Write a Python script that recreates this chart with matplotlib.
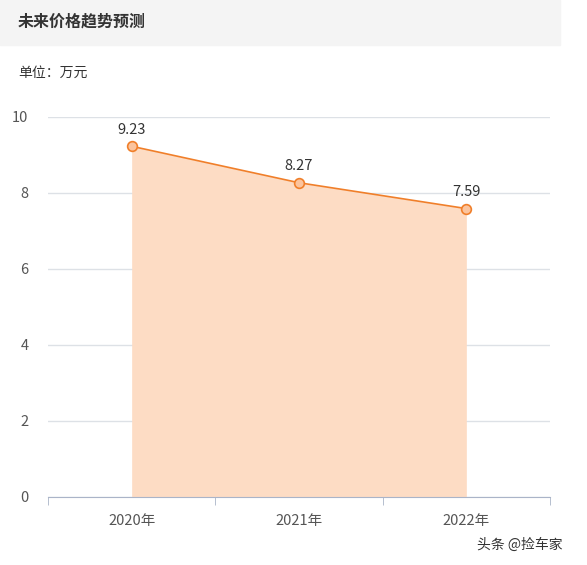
import matplotlib
matplotlib.use("Agg")
import matplotlib.pyplot as plt
from matplotlib.patches import Rectangle

plt.rcParams['font.family'] = ['Noto Sans CJK SC', 'DejaVu Sans']

categories = ["2020年", "2021年", "2022年"]
values = [9.23, 8.27, 7.59]
yticks = [0, 2, 4, 6, 8, 10]

W, H = 587, 565
fig = plt.figure(figsize=(W/100, H/100), dpi=100)
fig.patches.append(Rectangle((0, 1-45/H), 560/W, 45/H, transform=fig.transFigure,
                             color="#f4f4f4", zorder=0))
fig.text(18/W, 1-22/H, "未来价格趋势预测", fontsize=11.5, fontweight="bold",
         color="#333333", va="center")
fig.text(18/W, 1-73/H, "单位：万元", fontsize=10, color="#333333", va="center")
fig.text(520/W, 1-545/H, "头条 @捡车家", fontsize=10, color="#333333",
         va="center", ha="center")

ax = fig.add_axes([48/W, 1-497/H, 502/W, 380/H])
x = list(range(len(categories)))
ax.fill_between(x, values, 0, color="#fddcc4", lw=0, zorder=1)
ax.plot(x, values, color="#f07f2a", lw=1.2, marker="o", ms=7,
        mfc="#fbc49e", mec="#f07f2a", mew=1.2, zorder=3)
for xi, v in zip(x, values):
    ax.text(xi, v + 0.25, f"{v:.2f}", ha="center", va="bottom", fontsize=10.5,
            color="#333333")
ax.set_xlim(-0.5, 2.5)
ax.set_ylim(0, 10)
ax.set_yticks(yticks)
ax.set_xticks(x)
ax.set_xticklabels(categories)
ax.set_xticks([-0.5, 0.5, 1.5, 2.5], minor=True)
ax.tick_params(axis="x", which="major", length=0, pad=12, labelsize=10.5, colors="#555555")
ax.tick_params(axis="x", which="minor", length=6, color="#aab4c8", direction="out")
ax.tick_params(axis="y", length=0, pad=14, labelsize=10.5, colors="#555555")
ax.grid(axis="y", color="#dde1e6", lw=1, zorder=0)
ax.set_axisbelow(True)
for s in ["top", "right", "left"]:
    ax.spines[s].set_visible(False)
ax.spines["bottom"].set_color("#aab4c8")
fig.savefig("out.png", dpi=100)
